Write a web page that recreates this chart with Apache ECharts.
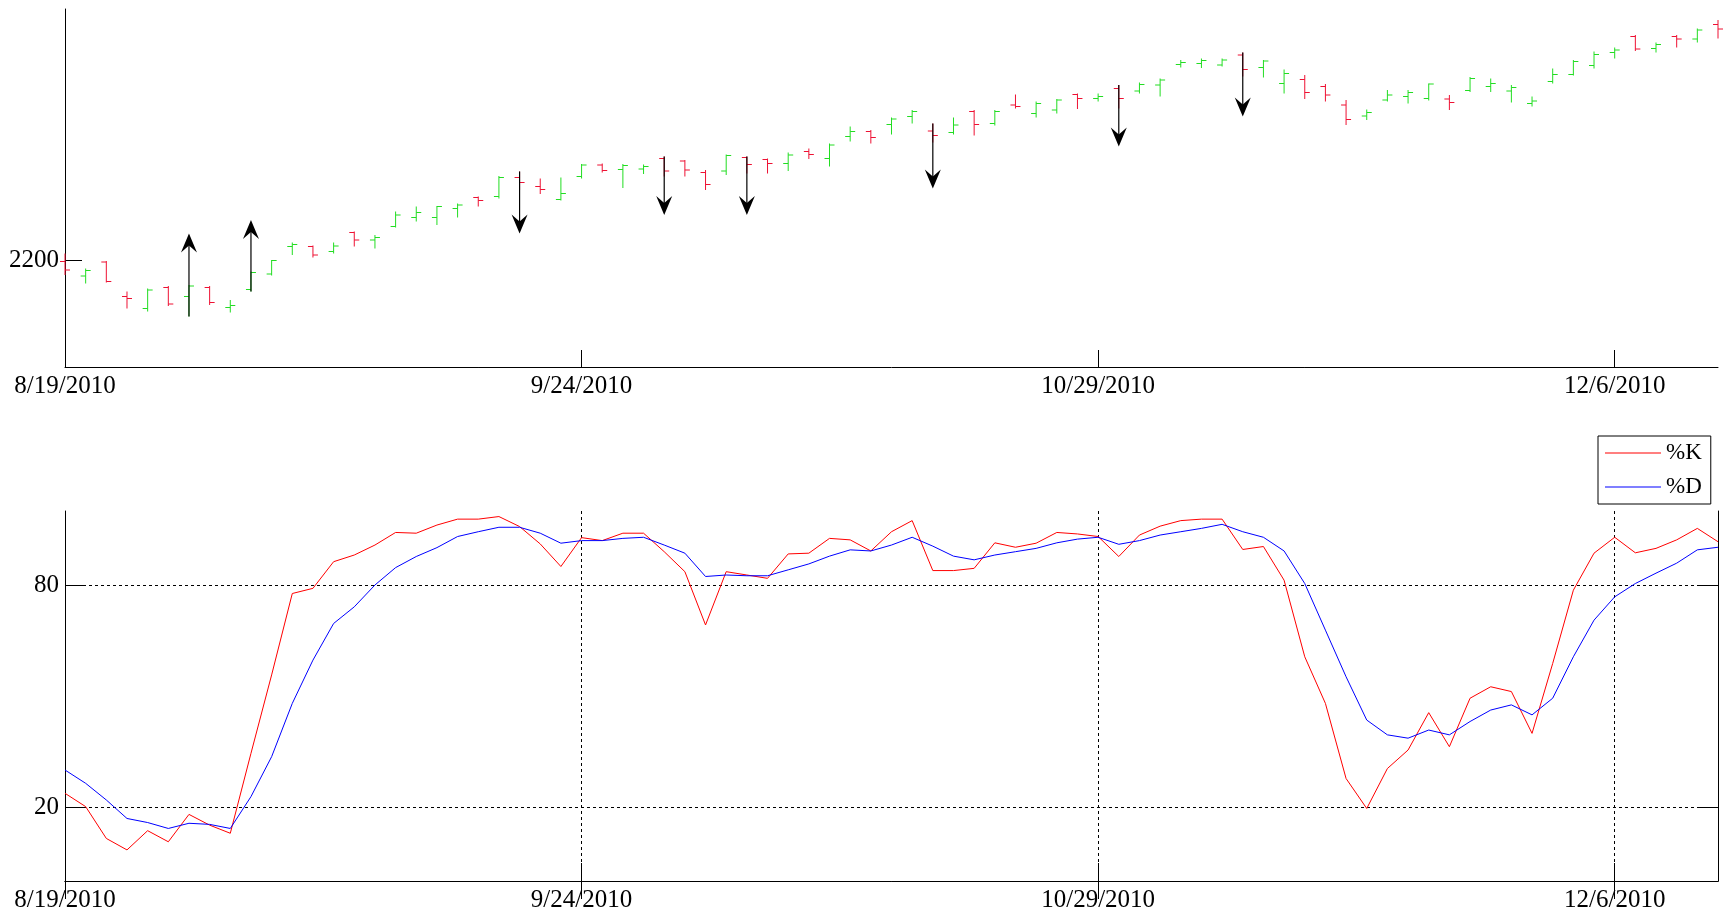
<!DOCTYPE html>
<html>
<head>
<meta charset="utf-8">
<script src="https://cdn.jsdelivr.net/npm/echarts@6/dist/echarts.min.js"></script>
<style>
  html, body { margin: 0; padding: 0; background: #fff; }
  #chart { width: 1727px; height: 917px; }
</style>
</head>
<body>
<div id="chart"></div>
<script>
// trading days shown on the x axis (ticks every 25 bars)
const dates = [
  '8/19/2010', '8/20/2010', '8/23/2010', '8/24/2010', '8/25/2010', '8/26/2010', '8/27/2010', '8/30/2010', '8/31/2010',
  '9/1/2010', '9/2/2010', '9/3/2010', '9/7/2010', '9/8/2010', '9/9/2010', '9/10/2010', '9/13/2010', '9/14/2010',
  '9/15/2010', '9/16/2010', '9/17/2010', '9/20/2010', '9/21/2010', '9/22/2010', '9/23/2010', '9/24/2010', '9/27/2010',
  '9/28/2010', '9/29/2010', '9/30/2010', '10/1/2010', '10/4/2010', '10/5/2010', '10/6/2010', '10/7/2010', '10/8/2010',
  '10/11/2010', '10/12/2010', '10/13/2010', '10/14/2010', '10/15/2010', '10/18/2010', '10/19/2010', '10/20/2010',
  '10/21/2010', '10/22/2010', '10/25/2010', '10/26/2010', '10/27/2010', '10/28/2010', '10/29/2010', '11/1/2010',
  '11/2/2010', '11/3/2010', '11/4/2010', '11/5/2010', '11/8/2010', '11/9/2010', '11/10/2010', '11/11/2010',
  '11/12/2010', '11/15/2010', '11/16/2010', '11/17/2010', '11/18/2010', '11/19/2010', '11/22/2010', '11/23/2010',
  '11/24/2010', '11/26/2010', '11/29/2010', '11/30/2010', '12/1/2010', '12/2/2010', '12/3/2010', '12/6/2010',
  '12/7/2010', '12/8/2010', '12/9/2010', '12/10/2010', '12/13/2010'
];

const opens = [
  2198, 2169, 2197, 2128, 2104, 2146, 2128, 2146, 2106, 2142, 2173, 2228, 2228, 2218, 2256, 2241, 2268, 2286, 2286, 2304,
  2326, 2328, 2366, 2348, 2322, 2368, 2391, 2382, 2383, 2404, 2399, 2376, 2379, 2406, 2402, 2394, 2418, 2404, 2448, 2458,
  2472, 2488, 2459, 2456, 2498, 2474, 2511, 2494, 2501, 2532, 2524, 2544, 2539, 2551, 2592, 2594, 2591, 2611, 2586, 2554,
  2562, 2548, 2511, 2489, 2521, 2528, 2524, 2523, 2540, 2548, 2539, 2514, 2558, 2572, 2590, 2616, 2648, 2624, 2648, 2643,
  2672
];
const highs = [
  2214, 2184, 2199, 2138, 2144, 2149, 2151, 2149, 2121, 2178, 2201, 2236, 2230, 2236, 2258, 2251, 2298, 2308, 2309, 2314,
  2328, 2369, 2378, 2364, 2366, 2393, 2394, 2393, 2392, 2408, 2401, 2381, 2412, 2408, 2404, 2416, 2424, 2434, 2468, 2461,
  2486, 2501, 2474, 2486, 2501, 2501, 2532, 2518, 2523, 2534, 2534, 2551, 2556, 2564, 2601, 2604, 2604, 2616, 2601, 2582,
  2571, 2553, 2521, 2502, 2541, 2541, 2554, 2531, 2567, 2564, 2551, 2528, 2584, 2601, 2618, 2626, 2651, 2636, 2651, 2664,
  2681
];
const lows = [
  2171, 2154, 2156, 2104, 2098, 2109, 2088, 2111, 2096, 2138, 2170, 2211, 2206, 2214, 2228, 2224, 2266, 2278, 2271, 2286,
  2308, 2324, 2341, 2333, 2320, 2364, 2376, 2345, 2373, 2368, 2368, 2341, 2371, 2374, 2374, 2379, 2403, 2388, 2438, 2434,
  2452, 2474, 2436, 2452, 2450, 2470, 2504, 2486, 2494, 2503, 2518, 2504, 2534, 2528, 2586, 2585, 2588, 2568, 2566, 2534,
  2523, 2518, 2471, 2481, 2518, 2514, 2520, 2501, 2537, 2537, 2516, 2508, 2554, 2570, 2584, 2604, 2619, 2616, 2626, 2636,
  2644
];
const closes = [
  2181, 2180, 2158, 2124, 2141, 2113, 2149, 2116, 2110, 2176, 2200, 2232, 2211, 2229, 2241, 2246, 2291, 2296, 2308, 2311,
  2320, 2366, 2356, 2342, 2334, 2391, 2380, 2390, 2388, 2379, 2381, 2352, 2410, 2392, 2394, 2411, 2412, 2431, 2458, 2446,
  2483, 2498, 2450, 2471, 2472, 2498, 2508, 2514, 2521, 2524, 2528, 2524, 2552, 2561, 2596, 2600, 2601, 2582, 2599, 2574,
  2536, 2531, 2482, 2496, 2531, 2536, 2553, 2516, 2564, 2554, 2546, 2519, 2572, 2598, 2612, 2621, 2623, 2632, 2643, 2661,
  2663
];

// buy / sell arrows: bar index, start price, tip price
const signalIdx = [6, 9, 22, 29, 33, 42, 51, 57];
const signalFrom = [2088, 2138, 2378, 2408, 2408, 2474, 2551, 2616];
const signalTo = [2254, 2281, 2254, 2291, 2291, 2344, 2428, 2488];

// stochastic oscillator
const kValues = [
  23.7, 20.1, 11.5, 8.4, 13.6, 10.6, 18, 15.1, 12.9, 34.5, 55.7, 77.7, 79.1, 86.3, 88.1, 90.8, 94.2, 94, 96.2, 97.8,
  97.8, 98.5, 95.8, 91.1, 85, 92.8, 92, 94, 94, 89, 83.6, 69.2, 83.6, 82.7, 81.8, 88.4, 88.6, 92.6, 92.2, 89.2,
  94.4, 97.4, 83.9, 83.9, 84.5, 91.4, 90.2, 91.3, 94.2, 93.8, 93.1, 87.7, 93.5, 95.9, 97.4, 97.8, 97.8, 89.6, 90.4, 81.3,
  60.6, 48, 27.7, 19.6, 30.4, 35.4, 45.5, 36.3, 49.4, 52.5, 51.2, 39.9, 58.8, 78.6, 88.6, 92.9, 88.7, 89.9, 92.2, 95.3,
  91.7
];
const dValues = [
  30, 26.4, 21.9, 16.9, 15.8, 14.2, 15.6, 15.3, 14.2, 22.8, 33.6, 48, 59.7, 69.6, 74.1, 80, 84.7, 87.7, 90.1, 93.1,
  94.4, 95.6, 95.6, 94, 91.3, 92, 92, 92.6, 92.9, 90.8, 88.6, 82.3, 82.7, 82.5, 82.5, 84.1, 85.7, 87.8, 89.5, 89.2,
  90.8, 92.9, 90.5, 87.8, 86.8, 88.1, 89, 89.9, 91.4, 92.4, 92.9, 91, 92, 93.5, 94.4, 95.3, 96.4, 94.4, 92.9, 89.2,
  80.4, 67.8, 55.2, 43.5, 39.5, 38.6, 40.8, 39.5, 43.1, 46.2, 47.6, 44.9, 49.4, 60.6, 70.5, 76.8, 80.4, 83.2, 85.9, 89.5,
  90.2
];

const FONT = 'Liberation Serif';
const UP = '#22dd22';
const DOWN = '#ee1133';

const ohlc = dates.map((d, i) => [i, opens[i], highs[i], lows[i], closes[i]]);
const signals = signalIdx.map((idx, i) => [idx, signalFrom[i], signalTo[i]]);

function renderBar(params, api) {
  const i = api.value(0);
  const open = api.coord([i, api.value(1)]);
  const high = api.coord([i, api.value(2)]);
  const low = api.coord([i, api.value(3)]);
  const close = api.coord([i, api.value(4)]);
  const style = { stroke: api.value(4) >= api.value(1) ? UP : DOWN, lineWidth: 1 };
  return {
    type: 'group',
    children: [
      { type: 'line', shape: { x1: high[0], y1: high[1], x2: low[0], y2: low[1] }, style: style },
      { type: 'line', shape: { x1: open[0] - 5, y1: open[1], x2: open[0], y2: open[1] }, style: style },
      { type: 'line', shape: { x1: close[0], y1: close[1], x2: close[0] + 5, y2: close[1] }, style: style }
    ]
  };
}

function renderArrow(params, api) {
  const i = api.value(0);
  const from = api.coord([i, api.value(1)]);
  const tip = api.coord([i, api.value(2)]);
  const dir = tip[1] > from[1] ? 1 : -1;
  const x = tip[0];
  const y = tip[1];
  return {
    type: 'group',
    children: [
      { type: 'line', shape: { x1: x, y1: from[1], x2: x, y2: y - dir * 10 }, style: { stroke: '#000', lineWidth: 1.2 } },
      {
        type: 'polygon',
        shape: { points: [[x, y], [x - 8, y - dir * 19], [x, y - dir * 12], [x + 8, y - dir * 19]] },
        style: { fill: '#000' }
      }
    ]
  };
}

const labelStyle = { color: '#000', fontFamily: FONT, fontSize: 25 };
const black = { color: '#000', width: 1 };
const plain = v => String(v);
const lineIcon = 'path://M0,0H56V1H0Z';

const chart = echarts.init(document.getElementById('chart'));

chart.setOption({
  animation: false,
  backgroundColor: '#fff',
  grid: [
    { left: 65, right: 9, top: 9, height: 358 },
    { left: 65, right: 9, top: 511, height: 370 }
  ],
  legend: {
    data: [{ name: '%K', icon: lineIcon }, { name: '%D', icon: lineIcon }],
    orient: 'vertical',
    left: 1598,
    top: 436,
    itemWidth: 56,
    itemHeight: 1,
    itemGap: 10,
    padding: [5, 9, 5, 7],
    borderColor: '#000',
    borderWidth: 1,
    backgroundColor: '#fff',
    textStyle: { color: '#000', fontFamily: FONT, fontSize: 23, lineHeight: 24 }
  },
  xAxis: [
    {
      gridIndex: 0, type: 'category', data: dates, boundaryGap: false,
      axisLine: { lineStyle: black },
      axisTick: { inside: true, length: 17, interval: 24, lineStyle: black },
      axisLabel: Object.assign({ interval: 24, margin: 7 }, labelStyle),
      splitLine: { show: false }
    },
    {
      gridIndex: 1, type: 'category', data: dates, boundaryGap: false,
      axisLine: { lineStyle: black },
      axisTick: { inside: true, length: 18, interval: 24, lineStyle: black },
      axisLabel: Object.assign({ interval: 24, margin: 7 }, labelStyle),
      splitLine: { show: true, interval: 24, lineStyle: { color: '#000', width: 1, type: [3, 3] } }
    },
    {
      gridIndex: 1, type: 'category', data: dates, boundaryGap: false, position: 'top',
      axisLine: { lineStyle: black },
      axisTick: { inside: true, length: 18, interval: 24, lineStyle: black },
      axisLabel: { show: false },
      splitLine: { show: false }
    }
  ],
  yAxis: [
    {
      gridIndex: 0, type: 'value', min: 1987, max: 2703,
      axisLine: { show: true, lineStyle: black },
      axisTick: { show: true, inside: true, length: 17, customValues: [2200], lineStyle: black },
      axisLabel: Object.assign({ customValues: [2200], margin: 6, formatter: plain }, labelStyle),
      splitLine: { show: false }
    },
    {
      gridIndex: 1, type: 'value', min: 0, max: 100,
      axisLine: { show: true, lineStyle: black },
      axisTick: { show: true, inside: true, length: 18, customValues: [20, 80], lineStyle: black },
      axisLabel: Object.assign({ customValues: [20, 80], margin: 6, formatter: plain }, labelStyle),
      splitLine: { show: true, lineStyle: { color: '#000', width: 1, type: [3, 3] } }
    },
    {
      gridIndex: 1, type: 'value', min: 0, max: 100, position: 'right',
      axisLine: { show: true, lineStyle: black },
      axisTick: { show: true, inside: true, length: 18, customValues: [20, 80], lineStyle: black },
      axisLabel: { show: false },
      splitLine: { show: false }
    }
  ],
  series: [
    {
      name: 'price', type: 'custom', xAxisIndex: 0, yAxisIndex: 0,
      renderItem: renderBar, data: ohlc, encode: { x: 0, y: [1, 2, 3, 4] }
    },
    {
      name: 'signals', type: 'custom', xAxisIndex: 0, yAxisIndex: 0,
      renderItem: renderArrow, data: signals, encode: { x: 0, y: [1, 2] }, z: 5
    },
    {
      name: '%K', type: 'line', xAxisIndex: 1, yAxisIndex: 1, data: kValues,
      symbol: 'none', color: '#ff0000', lineStyle: { color: '#ff0000', width: 1 }
    },
    {
      name: '%D', type: 'line', xAxisIndex: 1, yAxisIndex: 1, data: dValues,
      symbol: 'none', color: '#0000ff', lineStyle: { color: '#0000ff', width: 1 }
    }
  ]
});
</script>
</body>
</html>
